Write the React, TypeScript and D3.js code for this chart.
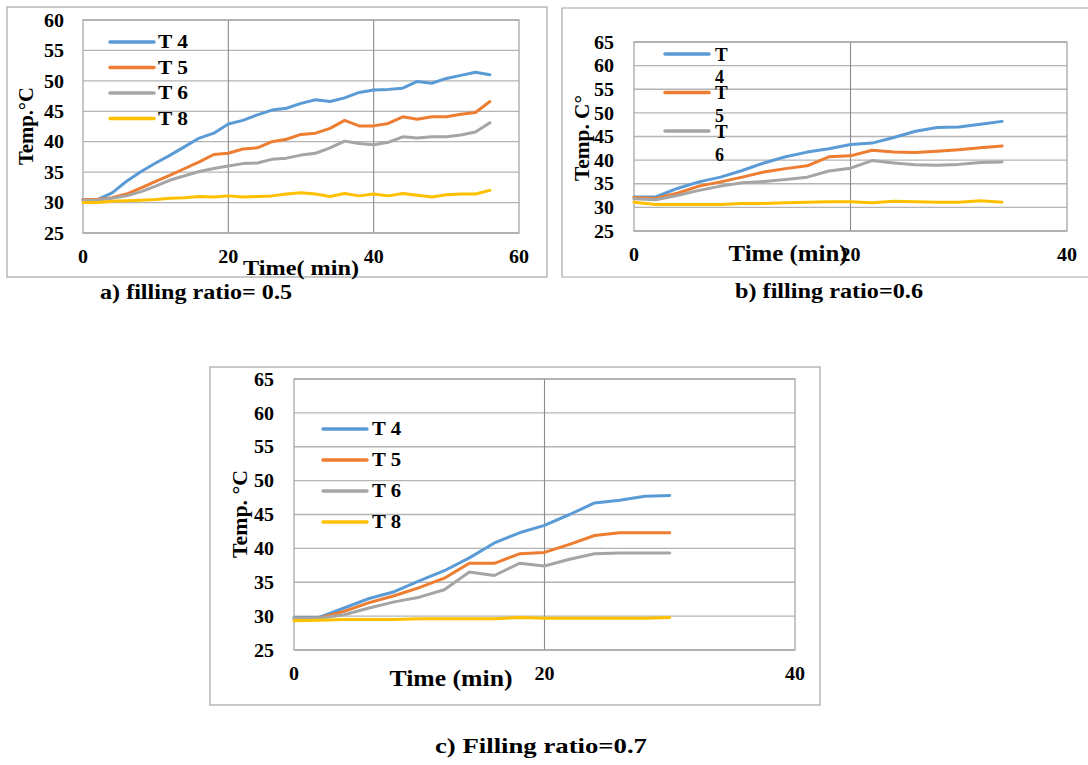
import React from "react";
import * as d3 from "d3";

const timeA = [0,2,4,6,8,10,12,14,16,18,20,22,24,26,28,30,32,34,36,38,40,42,44,46,48,50,52,54,56];
const t4A = [30.5,30.5,31.6,33.5,35.1,36.5,37.8,39.2,40.6,41.4,42.9,43.5,44.4,45.2,45.5,46.3,46.9,46.6,47.2,48.1,48.5,48.6,48.8,49.9,49.6,50.4,50.9,51.4,51.0];
const t5A = [30.5,30.5,30.8,31.4,32.4,33.5,34.5,35.6,36.7,37.9,38.1,38.8,39.0,40.0,40.4,41.2,41.4,42.2,43.5,42.6,42.6,43.0,44.1,43.7,44.1,44.1,44.5,44.8,46.6];
const t6A = [30.4,30.4,30.7,31.1,31.8,32.7,33.7,34.4,35.1,35.6,36.0,36.4,36.5,37.1,37.3,37.8,38.1,39.0,40.1,39.7,39.5,39.9,40.8,40.6,40.8,40.8,41.1,41.6,43.1];
const t8A = [30.0,30.0,30.2,30.3,30.4,30.5,30.7,30.8,31.0,30.9,31.1,30.9,31.0,31.1,31.4,31.6,31.4,31.0,31.5,31.1,31.4,31.1,31.5,31.2,30.9,31.3,31.4,31.4,32.0];

const timeB = [0,2,4,6,8,10,12,14,16,18,20,22,24,26,28,30,32,34];
const t4B = [32.2,32.2,34.0,35.4,36.4,37.8,39.4,40.7,41.7,42.4,43.3,43.6,44.8,46.1,46.9,47.0,47.6,48.2];
const t5B = [32.1,31.9,33.0,34.5,35.4,36.4,37.5,38.2,38.8,40.7,40.9,42.1,41.7,41.6,41.9,42.2,42.6,43.0];
const t6B = [31.8,31.6,32.5,33.6,34.5,35.2,35.5,35.9,36.4,37.7,38.3,39.9,39.4,39.0,38.9,39.1,39.5,39.6];
const t8B = [31.1,30.6,30.6,30.6,30.6,30.8,30.8,31.0,31.1,31.2,31.2,31.0,31.3,31.2,31.1,31.1,31.4,31.1];

const timeC = [0,2,4,6,8,10,12,14,16,18,20,22,24,26,28,30];
const t4C = [29.8,29.8,31.2,32.6,33.6,35.2,36.7,38.6,40.8,42.3,43.4,45.0,46.7,47.1,47.7,47.8];
const t5C = [29.7,29.7,30.7,32.0,33.0,34.2,35.6,37.8,37.8,39.2,39.4,40.6,41.9,42.3,42.3,42.3];
const t6C = [29.7,29.7,30.2,31.2,32.1,32.8,33.9,36.5,36.0,37.8,37.4,38.4,39.2,39.3,39.3,39.3];
const t8C = [29.3,29.4,29.5,29.5,29.5,29.6,29.6,29.6,29.6,29.8,29.7,29.7,29.7,29.7,29.7,29.8];

const seriesNames = ["T 4", "T 5", "T 6", "T 8"];
const colors = ["#5b9bd5", "#ed7d31", "#a5a5a5", "#ffc000"];

const yTicksA = [25,30,35,40,45,50,55,60];
const yTicksBC = [25,30,35,40,45,50,55,60,65];
const xTicksA = [0,20,40,60];
const xTicksBC = [0,20,40];

const FONT = "'Liberation Serif', 'Times New Roman', serif";

type PanelProps = {
  box: [number, number, number, number];
  plot: [number, number, number, number];
  xDomain: [number, number];
  yDomain: [number, number];
  yTicks: number[];
  xTicks: number[];
  times: number[];
  series: number[][];
  yTitle: string;
  yTitlePos: [number, number];
  yTitleSize: number;
  yTitleLen: number;
  xTitle: string;
  xTitlePos: [number, number];
  xTitleSize: number;
  xTitleLen: number;
  xLabelY: number;
  yLabelX: number;
  legend: () => React.ReactNode;
  hideBoxRight?: boolean;
};

function Tick(props: { x: number; y: number; v: number; anchor: "end" | "middle" }) {
  const s = String(props.v);
  const len = s.length * 10;
  return (
    <text x={props.x} y={props.y} dy="0.35em" textAnchor={props.anchor} fontFamily={FONT} fontWeight="bold" fontSize={19}
      textLength={len} lengthAdjust="spacingAndGlyphs">{s}</text>
  );
}

function Panel(p: PanelProps) {
  const [l, t, r, b] = p.plot;
  const x = d3.scaleLinear().domain(p.xDomain).range([l, r]);
  const y = d3.scaleLinear().domain(p.yDomain).range([b, t]);
  const [bx, by, bw, bh] = p.box;
  return (
    <g>
      {p.hideBoxRight ? (
        <path d={`M${bx + bw},${by}H${bx}V${by + bh}H${bx + bw}`} fill="none" stroke="#a6a6a6" strokeWidth={1.2} />
      ) : (
        <rect x={bx} y={by} width={bw} height={bh} fill="white" stroke="#a6a6a6" strokeWidth={1.2} />
      )}
      {p.yTicks.map((v) => (
        <line key={"h" + v} x1={l} x2={r} y1={y(v)} y2={y(v)} stroke="#b4b4b4" strokeWidth={1.3} />
      ))}
      {p.xTicks.filter((v) => v > p.xDomain[0] && v < p.xDomain[1]).map((v) => (
        <line key={"v" + v} x1={x(v)} x2={x(v)} y1={t} y2={b} stroke="#8a8a8a" strokeWidth={1.1} />
      ))}
      <rect x={l} y={t} width={r - l} height={b - t} fill="none" stroke="#a8a8a8" strokeWidth={1.3} />
      {p.yTicks.map((v) => (
        <Tick key={"yl" + v} x={p.yLabelX} y={y(v)} v={v} anchor="end" />
      ))}
      {p.xTicks.map((v) => (
        <Tick key={"xl" + v} x={x(v)} y={p.xLabelY} v={v} anchor="middle" />
      ))}
      {p.series.map((vals, i) => {
        const line = d3.line<number>().x((_, j) => x(p.times[j])).y((d) => y(d));
        return <path key={"s" + i} d={line(vals) || ""} fill="none" stroke={colors[i]} strokeWidth={3} strokeLinejoin="round" strokeLinecap="round" />;
      })}
      {p.legend()}
      <text x={p.xTitlePos[0]} y={p.xTitlePos[1]} dy="0.35em" textAnchor="middle" fontFamily={FONT} fontWeight="bold" fontSize={p.xTitleSize}
        textLength={p.xTitleLen} lengthAdjust="spacingAndGlyphs">{p.xTitle}</text>
      <text transform={`translate(${p.yTitlePos[0]},${p.yTitlePos[1]}) rotate(-90)`} dy="0.35em" textAnchor="middle" fontFamily={FONT} fontWeight="bold" fontSize={p.yTitleSize}
        textLength={p.yTitleLen} lengthAdjust="spacingAndGlyphs">{p.yTitle}</text>
    </g>
  );
}

export default function App() {
  return (
    <svg width={1088} height={765} style={{ position: "absolute", left: 0, top: 0, background: "white" }}>
      <rect x={0} y={0} width={1088} height={765} fill="white" />
      <Panel
        box={[7, 7, 540, 270]}
        plot={[83, 20, 519, 233]}
        xDomain={[0, 60]}
        yDomain={[25, 60]}
        yTicks={yTicksA}
        xTicks={xTicksA}
        times={timeA}
        series={[t4A, t5A, t6A, t8A]}
        yTitle="Temp.°C"
        yTitlePos={[26, 126]}
        yTitleSize={21}
        yTitleLen={78}
        xTitle="Time( min)"
        xTitlePos={[301, 267]}
        xTitleSize={22}
        xTitleLen={116}
        xLabelY={256}
        yLabelX={64}
        legend={() => (
          <g>
            {seriesNames.map((n, i) => (
              <g key={n}>
                <line x1={110} x2={154} y1={42 + i * 25.5} y2={42 + i * 25.5} stroke={colors[i]} strokeWidth={3.5} strokeLinecap="round" />
                <text x={158} y={42 + i * 25.5} dy="0.35em" fontFamily={FONT} fontWeight="bold" fontSize={18} textLength={30} lengthAdjust="spacingAndGlyphs">{n}</text>
              </g>
            ))}
          </g>
        )}
      />
      <Panel
        box={[562, 8, 530, 269]}
        hideBoxRight
        plot={[634, 42, 1067, 231]}
        xDomain={[0, 40]}
        yDomain={[25, 65]}
        yTicks={yTicksBC}
        xTicks={xTicksBC}
        times={timeB}
        series={[t4B, t5B, t6B, t8B]}
        yTitle="Temp. C°"
        yTitlePos={[582, 138]}
        yTitleSize={21}
        yTitleLen={86}
        xTitle="Time (min)"
        xTitlePos={[788, 253]}
        xTitleSize={23}
        xTitleLen={119}
        xLabelY={254}
        yLabelX={614}
        legend={() => (
          <g>
            {seriesNames.slice(0, 3).map((n, i) => (
              <g key={n}>
                <line x1={665} x2={709} y1={54 + i * 38.5} y2={54 + i * 38.5} stroke={colors[i]} strokeWidth={3.5} strokeLinecap="round" />
                <text x={715} y={54 + i * 38.5} dy="0.35em" fontFamily={FONT} fontWeight="bold" fontSize={19}>{n.split(" ")[0]}</text>
                <text x={715} y={77 + i * 38.8} dy="0.35em" fontFamily={FONT} fontWeight="bold" fontSize={18}>{n.split(" ")[1]}</text>
              </g>
            ))}
          </g>
        )}
      />
      <Panel
        box={[210, 367, 610, 338]}
        plot={[294, 379, 795, 650]}
        xDomain={[0, 40]}
        yDomain={[25, 65]}
        yTicks={yTicksBC}
        xTicks={xTicksBC}
        times={timeC}
        series={[t4C, t5C, t6C, t8C]}
        yTitle="Temp. °C"
        yTitlePos={[239, 514]}
        yTitleSize={21.5}
        yTitleLen={88}
        xTitle="Time (min)"
        xTitlePos={[451, 678]}
        xTitleSize={23}
        xTitleLen={123}
        xLabelY={673}
        yLabelX={274}
        legend={() => (
          <g>
            {seriesNames.map((n, i) => (
              <g key={n}>
                <line x1={323} x2={367} y1={429 + i * 31} y2={429 + i * 31} stroke={colors[i]} strokeWidth={3.5} strokeLinecap="round" />
                <text x={372} y={429 + i * 31} dy="0.35em" fontFamily={FONT} fontWeight="bold" fontSize={18} textLength={29} lengthAdjust="spacingAndGlyphs">{n}</text>
              </g>
            ))}
          </g>
        )}
      />
      <text x={196} y={292} dy="0.35em" textAnchor="middle" fontFamily={FONT} fontWeight="bold" fontSize={20} textLength={192} lengthAdjust="spacingAndGlyphs">a) filling ratio= 0.5</text>
      <text x={829} y={291} dy="0.35em" textAnchor="middle" fontFamily={FONT} fontWeight="bold" fontSize={20} textLength={188} lengthAdjust="spacingAndGlyphs">b) filling ratio=0.6</text>
      <text x={541} y={746} dy="0.35em" textAnchor="middle" fontFamily={FONT} fontWeight="bold" fontSize={21} textLength={212} lengthAdjust="spacingAndGlyphs">c) Filling ratio=0.7</text>
    </svg>
  );
}
